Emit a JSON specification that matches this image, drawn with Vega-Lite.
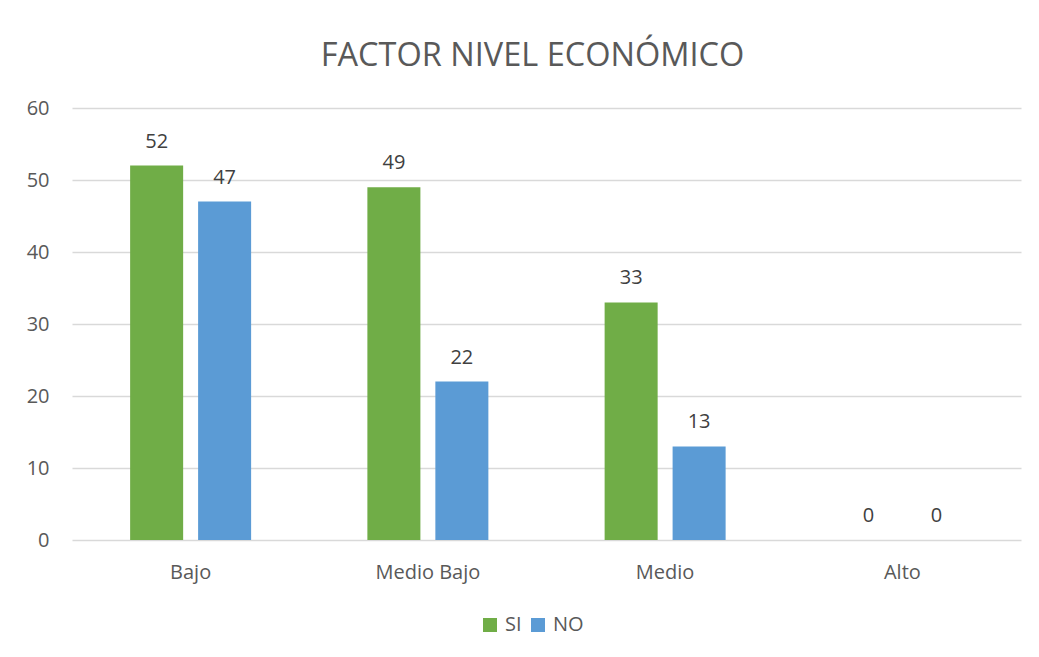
{
  "$schema": "https://vega.github.io/schema/vega-lite/v6.json",
  "width": 949,
  "height": 432,
  "autosize": {"type": "none"},
  "padding": {"left": 72, "top": 108, "right": 18, "bottom": 117},
  "background": "white",
  "title": {
    "text": "FACTOR NIVEL ECONÓMICO",
    "fontSize": 32.5,
    "font": "Open Sans",
    "fontWeight": "normal",
    "color": "#595959",
    "offset": 26,
    "dx": -14
  },
  "config": {
    "view": {"stroke": null},
    "font": "Open Sans"
  },
  "data": {
    "values": [
      {"nivel": "Bajo", "serie": "SI", "valor": 52},
      {"nivel": "Bajo", "serie": "NO", "valor": 47},
      {"nivel": "Medio Bajo", "serie": "SI", "valor": 49},
      {"nivel": "Medio Bajo", "serie": "NO", "valor": 22},
      {"nivel": "Medio", "serie": "SI", "valor": 33},
      {"nivel": "Medio", "serie": "NO", "valor": 13},
      {"nivel": "Alto", "serie": "SI", "valor": 0},
      {"nivel": "Alto", "serie": "NO", "valor": 0}
    ]
  },
  "encoding": {
    "x": {
      "field": "nivel",
      "type": "nominal",
      "sort": ["Bajo", "Medio Bajo", "Medio", "Alto"],
      "scale": {"paddingInner": 0.49, "paddingOuter": 0.245},
      "axis": {
        "title": null,
        "labelAngle": 0,
        "labelFontSize": 20,
        "labelColor": "#595959",
        "labelPadding": 22,
        "ticks": false,
        "domain": false,
        "grid": false
      }
    },
    "xOffset": {
      "field": "serie",
      "sort": ["SI", "NO"],
      "scale": {"paddingInner": 0.22, "paddingOuter": 0}
    },
    "y": {
      "field": "valor",
      "type": "quantitative",
      "scale": {"domain": [0, 60]},
      "axis": {
        "title": null,
        "values": [0, 10, 20, 30, 40, 50, 60],
        "labelFontSize": 20,
        "labelColor": "#595959",
        "labelPadding": 23,
        "ticks": false,
        "domain": false,
        "gridColor": "#d9d9d9",
        "gridWidth": 1.3
      }
    }
  },
  "layer": [
    {
      "mark": {"type": "bar"},
      "encoding": {
        "color": {
          "field": "serie",
          "type": "nominal",
          "sort": ["SI", "NO"],
          "scale": {"domain": ["SI", "NO"], "range": ["#70AD47", "#5B9BD5"]},
          "legend": {
            "title": null,
            "orient": "none",
            "direction": "horizontal",
            "legendX": 408,
            "legendY": 507,
            "symbolType": "square",
            "symbolSize": 196,
            "symbolStrokeWidth": 0,
            "labelFontSize": 20,
            "labelColor": "#595959",
            "labelOffset": 5,
            "columnPadding": 6
          }
        }
      }
    },
    {
      "mark": {"type": "text", "baseline": "alphabetic", "dy": -18, "fontSize": 20, "color": "#404040"},
      "encoding": {
        "text": {"field": "valor", "type": "quantitative"}
      }
    }
  ]
}
